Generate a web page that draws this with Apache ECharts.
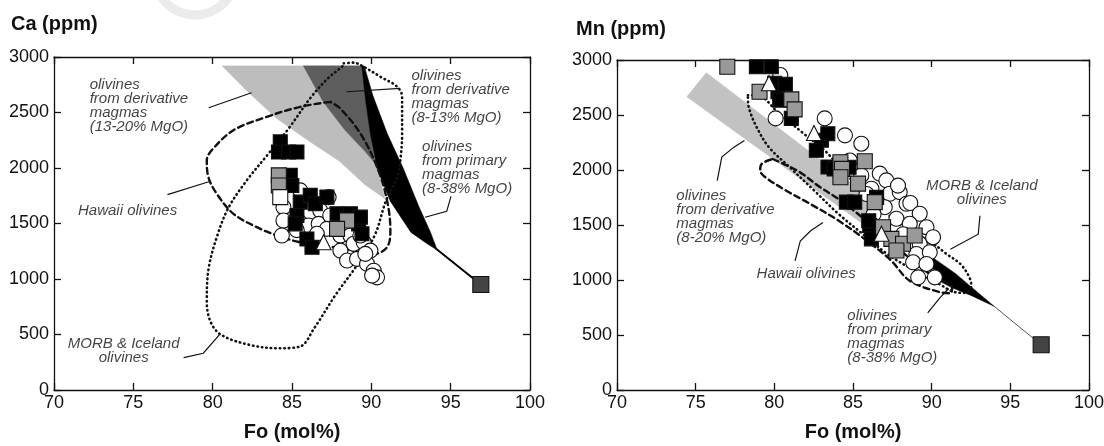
<!DOCTYPE html>
<html>
<head>
<meta charset="utf-8">
<script src="https://cdn.jsdelivr.net/npm/echarts@6/dist/echarts.min.js"></script>
<style>
html, body { margin: 0; padding: 0; background: #fff; }
#chart { width: 1104px; height: 446px; }
</style>
</head>
<body>
<div id="chart"></div>
<script>
// ---- Ca (ppm) vs Fo (mol%) ----
var caDerivLight = [[80.6, 2920], [89.4, 2920], [89.65, 2600], [89.95, 2300], [90.35, 2000], [90.85, 1725],
	[89.6, 1850], [88.0, 2060], [86.0, 2250], [84.0, 2450], [82.2, 2690]];
var caDerivDark = [[85.72, 2920], [89.4, 2920], [89.65, 2600], [89.95, 2300], [90.2, 2050],
	[89.6, 2150], [88.35, 2340], [87.0, 2590]];
var caPrimary = [[89.4, 2920], [89.65, 2600], [89.95, 2300], [90.35, 2000], [91.2, 1700], [92.5, 1420], [93.5, 1320], [94.1, 1265],
	[94.1, 1280], [93.73, 1420], [93.0, 1650], [92.0, 2000], [91.0, 2310], [90.1, 2650], [89.55, 2920]];
var caPrimaryTail = [[94.1, 1270], [96.9, 950]];
var caHawaii = [[87.41, 2596], [85.52, 2551], [83.41, 2461], [81.31, 2340], [79.94, 2160], [79.63, 2069], [79.73, 1918],
	[80.26, 1768], [81.31, 1587], [82.78, 1467], [84.05, 1392], [85.52, 1331], [87.5, 1290], [89.0, 1250], [90.15, 1226],
	[90.99, 1286], [91.2, 1437], [90.99, 1708], [90.36, 2009], [89.31, 2311], [88.04, 2536], [87.41, 2596]];
var caMorb = [[88.26, 2943], [88.88, 2949], [89.52, 2912], [90.57, 2822], [91.63, 2732], [91.94, 2641], [91.94, 2311],
	[91.83, 2069], [91.63, 1918], [90.91, 1700], [90.23, 1399], [89.11, 1128], [87.75, 858], [86.4, 557], [85.5, 391],
	[84.14, 376], [82.34, 406], [80.53, 497], [79.86, 617], [79.63, 797], [79.75, 1098], [80.31, 1399], [80.99, 1640],
	[82.11, 1881], [83.47, 2121], [84.82, 2362], [86.17, 2633], [87.3, 2813], [88.2, 2919], [88.26, 2943]];
var caBlackSq = [[84.26, 2235], [84.15, 2144], [84.78, 2144], [85.31, 2144], [84.89, 1934], [84.99, 1843], [85.52, 1693],
	[86.15, 1753], [86.47, 1678], [87.84, 1588], [88.47, 1542], [89.2, 1497], [89.41, 1407], [85.31, 1572], [85.2, 1497],
	[85.94, 1361], [86.26, 1286], [87.2, 1738], [88.68, 1588], [89.31, 1557]];
var caGraySq = [[84.17, 1934], [84.17, 1843], [88.47, 1527], [87.84, 1452]];
var caWhiteSq = [[84.26, 1738]];
var caCircle = [[85.52, 1798], [84.46, 1647], [84.46, 1527], [84.36, 1392], [85.63, 1527], [86.15, 1602], [86.04, 1482],
	[86.78, 1617], [87.31, 1738], [86.68, 1497], [87.41, 1572], [87.2, 1452], [88.05, 1392], [88.68, 1392], [88.05, 1256],
	[88.88, 1317], [89.52, 1331], [89.94, 1256], [88.47, 1166], [89.1, 1181], [89.73, 1136], [90.15, 1075], [90.36, 1015],
	[89.31, 1392], [89.62, 1226], [90.05, 1030], [86.57, 1407], [85.3, 1440]];
var caTriangle = [[86.99, 1331]];
var caPrimarySq = [[96.9, 950]];

// ---- Mn (ppm) vs Fo (mol%) ----
var mnDerivBand = [[74.44, 2666], [75.68, 2884], [86.6, 1690], [85.77, 1496]];
var mnPrimary = [[90.0, 1210], [91.5, 1060], [93.96, 762], [92.5, 860], [91.3, 930], [90.5, 990], [90.1, 1100]];
var mnPrimaryTail = [[93.96, 762], [96.96, 411]];
var mnMorb = [[78.32, 2680], [79.1, 2671], [80.1, 2543], [81.87, 2330], [83.2, 2178], [84.53, 1965], [85.86, 1782],
	[87.2, 1599], [88.53, 1447], [89.86, 1355], [90.97, 1234], [91.85, 1142], [92.41, 1020], [92.52, 944], [92.08, 883],
	[91.41, 892], [90.52, 960], [88.97, 1081], [87.2, 1234], [85.64, 1416], [84.09, 1599], [82.54, 1812], [80.98, 2025],
	[79.65, 2208], [78.87, 2391], [78.43, 2543], [78.32, 2635], [78.32, 2680]];
var mnHawaii = [[79.9, 2100], [80.55, 2058], [81.6, 1982], [82.9, 1845], [84.2, 1724], [86.0, 1520], [88.0, 1270],
	[90.0, 1040], [91.3, 930], [91.2, 880], [90.5, 890], [88.6, 994], [87.4, 1180], [85.9, 1355], [84.1, 1538],
	[82.3, 1690], [80.76, 1812], [79.43, 1934], [79.1, 1995], [79.2, 2056], [79.9, 2100]];
var mnBlackSq = [[78.86, 2939], [79.81, 2939], [80.02, 2788], [80.23, 2711], [80.34, 2635], [80.7, 2780], [81.08, 2469],
	[82.99, 2271], [82.67, 2179], [83.4, 2330], [83.41, 2027], [83.8, 2010], [84.75, 2025], [84.58, 1708], [85.11, 1708],
	[86.06, 1496], [86.17, 1374], [86.0, 1538], [86.5, 1751]];
var mnGraySq = [[77.01, 2939], [79.06, 2711], [81.08, 2642], [81.29, 2551], [84.2, 2071], [84.3, 2010], [84.2, 1934],
	[85.75, 2080], [85.32, 1876], [86.38, 1708], [86.91, 1480], [87.44, 1374], [88.18, 1329], [88.92, 1404], [87.76, 1268]];
var mnCircle = [[80.38, 2863], [80.08, 2469], [83.2, 2469], [84.49, 2315], [85.53, 2239], [84.8, 2086], [85.53, 1951],
	[86.7, 1967], [87.12, 1906], [86.17, 1830], [87.33, 1784], [87.97, 1799], [87.86, 1858], [87.02, 1662], [88.4, 1693],
	[88.64, 1700], [87.76, 1557], [89.24, 1602], [88.61, 1511], [89.67, 1480], [89.24, 1329], [89.03, 1237], [89.88, 1252],
	[88.82, 1161], [89.67, 1146], [89.14, 1024], [90.2, 1024], [90.09, 1389], [85.86, 1782], [86.31, 1599], [88.19, 1416]];
var mnTriangle = [[79.66, 2788], [82.52, 2337], [86.81, 1420]];
var mnPrimarySq = [[96.96, 411]];

// annotation layout (grid, anchor in data units, text, align)
var notes = [
	[0, [72.25, 2810], 'olivines\nfrom derivative\nmagmas\n(13-20% MgO)', 'left'],
	[0, [92.53, 2892], 'olivines\nfrom derivative\nmagmas\n(8-13% MgO)', 'left'],
	[0, [93.2, 2253], 'olivines\nfrom primary\nmagmas\n(8-38% MgO)', 'left'],
	[0, [71.51, 1674], 'Hawaii olivines', 'left'],
	[0, [74.39, 482], 'MORB & Iceland\nolivines', 'center'],
	[1, [73.77, 1833], 'olivines\nfrom derivative\nmagmas\n(8-20% MgO)', 'left'],
	[1, [78.87, 1119], 'Hawaii olivines', 'left'],
	[1, [93.19, 1924], 'MORB & Iceland\nolivines', 'center'],
	[1, [84.64, 739], 'olivines\nfrom primary\nmagmas\n(8-38% MgO)', 'left']
];
var arrows = [
	[0, [[79.75, 2543], [82.45, 2678]]],
	[0, [[91.81, 2717], [88.43, 2687]]],
	[0, [[95.02, 1745], [94.75, 1610], [93.39, 1556]]],
	[0, [[77.15, 1760], [79.86, 1881]]],
	[0, [[78.17, 292], [79.41, 331], [80.42, 496]]],
	[1, [[76.37, 1904], [76.66, 2117], [77.43, 2208], [78.1, 2269]]],
	[1, [[81.32, 1173], [81.65, 1355], [82.31, 1447], [83.09, 1523]]],
	[1, [[93.07, 1584], [92.96, 1416], [91.19, 1279]]],
	[1, [[89.75, 701], [90.52, 838], [91.08, 923]]]
];

var FONT = '"Liberation Sans", Arial, sans-serif';
var INK = '#111';

function plain(v) {
	return String(v);
}

function xAxis(g, pos) {
	var main = pos == 'bottom';
	return {
		gridIndex: g, type: 'value', position: pos, min: 70, max: 100, interval: 5,
		axisLine: { onZero: false, lineStyle: { color: INK, width: 1.3 } },
		axisTick: { inside: true, length: 7, lineStyle: { color: INK, width: 1.3 } },
		axisLabel: { show: main, color: INK, fontSize: 18, fontFamily: FONT, margin: 4, formatter: plain },
		splitLine: { show: false },
		name: main ? 'Fo (mol%)' : '', nameLocation: 'middle', nameGap: 32,
		nameTextStyle: { color: INK, fontSize: 20, fontWeight: 'bold', fontFamily: FONT }
	};
}

function yAxis(g, pos) {
	var main = pos == 'left';
	return {
		gridIndex: g, type: 'value', position: pos, min: 0, max: 3000, interval: 500,
		axisLine: { show: true, onZero: false, lineStyle: { color: INK, width: 1.3 } },
		axisTick: { show: true, inside: true, length: 7, lineStyle: { color: INK, width: 1.3 } },
		axisLabel: { show: main, color: INK, fontSize: 18, fontFamily: FONT, margin: 5, formatter: plain },
		splitLine: { show: false }
	};
}

function polygon(g, pts, color, z) {
	return {
		type: 'custom', xAxisIndex: g * 2, yAxisIndex: g * 2, z: z, silent: true, clip: true,
		data: [pts[0]],
		renderItem: function(params, api) {
			var points = [];
			for (var i = 0; i < pts.length; i++) {
				points.push(api.coord(pts[i]));
			}
			return { type: 'polygon', shape: { points: points }, style: { fill: color, stroke: color, lineWidth: 0.6 } };
		}
	};
}

function outline(g, pts, dash, width, smooth, color, z) {
	return {
		type: 'line', xAxisIndex: g * 2, yAxisIndex: g * 2, z: z, silent: true,
		data: pts, smooth: smooth, symbol: 'none', showSymbol: false,
		lineStyle: { color: color, width: width, type: dash, cap: 'round' }
	};
}

function markers(g, pts, symbol, size, color, z) {
	return {
		type: 'scatter', xAxisIndex: g * 2, yAxisIndex: g * 2, z: z, silent: true,
		data: pts, symbol: symbol, symbolSize: size,
		itemStyle: { color: color, borderColor: INK, borderWidth: 1.1, opacity: 1 }
	};
}

var series = [];
series.push(polygon(0, caDerivLight, '#bdbdbd', 1));
series.push(polygon(0, caDerivDark, '#5e5e5e', 2));
series.push(polygon(0, caPrimary, '#000', 3));
series.push(outline(0, caPrimaryTail, 'solid', 2, false, '#000', 3));
series.push(outline(0, caMorb, [0.5, 4], 2.6, 0.35, INK, 4));
series.push(outline(0, caHawaii, [6, 4], 2.4, 0.35, INK, 4));
series.push(markers(0, caCircle, 'circle', 15, '#fff', 5));
series.push(markers(0, caBlackSq, 'rect', 14, '#000', 6));
series.push(markers(0, caGraySq, 'rect', 15, '#999', 7));
series.push(markers(0, caWhiteSq, 'rect', 15, '#fff', 7));
series.push(markers(0, caTriangle, 'triangle', 15, '#fff', 7));
series.push(markers(0, caPrimarySq, 'rect', 16, '#444', 7));

series.push(polygon(1, mnDerivBand, '#c2c2c2', 1));
series.push(polygon(1, mnPrimary, '#000', 3));
series.push(outline(1, mnPrimaryTail, 'solid', 1, false, '#555', 3));
series.push(outline(1, mnMorb, [0.5, 4], 2.6, 0.35, INK, 4));
series.push(outline(1, mnHawaii, [6, 4], 2.4, 0.35, INK, 4));
series.push(markers(1, mnCircle, 'circle', 15, '#fff', 5));
series.push(markers(1, mnBlackSq, 'rect', 14, '#000', 6));
series.push(markers(1, mnGraySq, 'rect', 15, '#999', 7));
series.push(markers(1, mnTriangle, 'triangle', 15, '#fff', 7));
series.push(markers(1, mnPrimarySq, 'rect', 16, '#444', 7));

for (var i = 0; i < notes.length; i++) {
	var n = notes[i];
	series.push({
		type: 'scatter', xAxisIndex: n[0] * 2, yAxisIndex: n[0] * 2, z: 8, silent: true,
		symbolSize: 0, data: [n[1]],
		label: {
			show: true, position: [0, 0], align: n[3], verticalAlign: 'top', formatter: n[2],
			color: INK, fontSize: 15, lineHeight: 14, fontStyle: 'italic', fontFamily: FONT
		}
	});
}

for (var j = 0; j < arrows.length; j++) {
	var a = arrows[j];
	series.push({
		type: 'lines', coordinateSystem: 'cartesian2d', xAxisIndex: a[0] * 2, yAxisIndex: a[0] * 2, z: 8,
		silent: true, polyline: true, symbol: ['none', 'arrow'], symbolSize: 8,
		lineStyle: { color: INK, width: 1.2, opacity: 1 },
		data: [{ coords: a[1] }]
	});
}

var chart = echarts.init(document.getElementById('chart'));
chart.setOption({
	backgroundColor: '#fff',
	animation: false,
	grid: [
		{ left: 54, top: 57, width: 476, height: 333, containLabel: false, outerBoundsMode: 'none' },
		{ left: 617, top: 60, width: 472, height: 330, containLabel: false, outerBoundsMode: 'none' }
	],
	xAxis: [xAxis(0, 'bottom'), xAxis(0, 'top'), xAxis(1, 'bottom'), xAxis(1, 'top')],
	yAxis: [yAxis(0, 'left'), yAxis(0, 'right'), yAxis(1, 'left'), yAxis(1, 'right')],
	graphic: [
		{ type: 'arc', shape: { cx: 195, cy: -25, r: 40, startAngle: 0.35, endAngle: 2.8 },
			style: { stroke: '#ebebeb', lineWidth: 9, fill: null }, silent: true },
		{ type: 'text', left: 11, top: 14, style: { text: 'Ca (ppm)', fill: INK, font: 'bold 20px ' + FONT } },
		{ type: 'text', left: 576, top: 19, style: { text: 'Mn (ppm)', fill: INK, font: 'bold 20px ' + FONT } }
	],
	series: series
});
</script>
</body>
</html>
